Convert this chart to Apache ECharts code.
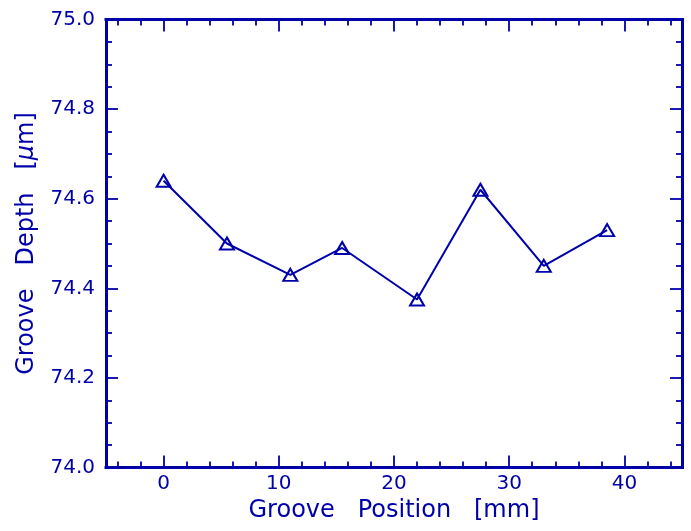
<!DOCTYPE html>
<html><head><meta charset="utf-8">
<script src="https://cdn.jsdelivr.net/npm/echarts@6/dist/echarts.min.js"></script>
<style>html,body{margin:0;padding:0;background:#fff}#c{width:691px;height:531px}</style>
</head><body><div id="c"></div>
<script>
const positions = [0, 5.5, 11, 15.5, 22, 27.5, 33, 38.5];
const depths = [74.64, 74.50, 74.43, 74.49, 74.375, 74.62, 74.45, 74.53];
const xMajorTicks = [0, 10, 20, 30, 40];
const xMinorTicks = [-4, -2, 2, 4, 6, 8, 12, 14, 16, 18, 22, 24, 26, 28, 32, 34, 36, 38, 42, 44];
const yMajorTicks = [74.0, 74.2, 74.4, 74.6, 74.8, 75.0];
const yMinorTicks = [74.05, 74.1, 74.15, 74.25, 74.3, 74.35, 74.45, 74.5, 74.55, 74.65, 74.7, 74.75, 74.85, 74.9, 74.95];
const xTitle = 'Groove   Position   [mm]';
const yTitle = 'Groove   Depth   [{i|\u03bc}m]';

const BLUE = '#0000aa';
const FONT = 'DejaVu Sans';

function axis(dim, pos, ticks, len, showLine, labels, name, extra) {
  const a = {
    type: 'value', position: pos, gridIndex: 0,
    min: dim === 'x' ? -5 : 74, max: dim === 'x' ? 45 : 75,
    axisLine: { show: showLine, onZero: false, lineStyle: { color: BLUE, width: 3, cap: 'square' } },
    axisTick: { show: true, inside: true, length: len, customValues: ticks, lineStyle: { color: BLUE, width: 1.8 } },
    axisLabel: labels ? { show: true, customValues: labels, color: BLUE, fontFamily: FONT, fontSize: 20,
      margin: dim === 'x' ? 6 : 11, formatter: v => dim === 'x' ? String(v) : v.toFixed(1) } : { show: false },
    splitLine: { show: false },
    minorTick: { show: false },
    silent: true
  };
  if (name) {
    a.name = name;
    a.nameLocation = 'middle';
    a.nameTextStyle = { color: BLUE, fontFamily: FONT, fontSize: 24,
      rich: { i: { fontStyle: 'italic', color: BLUE, fontFamily: FONT, fontSize: 24 } } };
  }
  return Object.assign(a, extra || {});
}

const chart = echarts.init(document.getElementById('c'), null, { renderer: 'canvas' });
chart.setOption({
  animation: false,
  backgroundColor: '#ffffff',
  grid: { left: 106, right: 9, top: 19.5, bottom: 63.5, containLabel: false },
  xAxis: [
    axis('x', 'bottom', xMajorTicks, 12, true, xMajorTicks, xTitle, { nameGap: 31 }),
    axis('x', 'bottom', xMinorTicks, 6, false, null, null),
    axis('x', 'top', xMajorTicks, 12, true, null, null),
    axis('x', 'top', xMinorTicks, 6, false, null, null)
  ],
  yAxis: [
    axis('y', 'left', yMajorTicks, 12, true, yMajorTicks, yTitle, { nameGap: 67 }),
    axis('y', 'left', yMinorTicks, 6, false, null, null),
    axis('y', 'right', yMajorTicks, 12, true, null, null),
    axis('y', 'right', yMinorTicks, 6, false, null, null)
  ],
  series: [{
    type: 'line',
    xAxisIndex: 0, yAxisIndex: 0,
    data: positions.map((x, i) => [x, depths[i]]),
    symbol: 'triangle',
    symbolSize: [14, 12],
    showSymbol: true,
    lineStyle: { color: BLUE, width: 2 },
    itemStyle: { color: 'rgba(0,0,0,0)', borderColor: BLUE, borderWidth: 2 },
    emphasis: { disabled: true }
  }]
});
</script></body></html>
